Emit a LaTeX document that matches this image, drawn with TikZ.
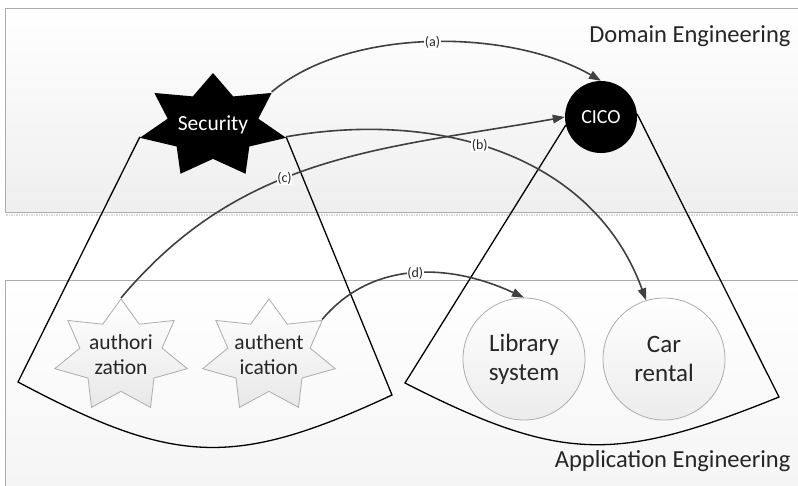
\documentclass[tikz,border=0pt]{standalone}
\usepackage{fontspec}
\setmainfont{Carlito}
\usetikzlibrary{arrows.meta, positioning, calc}

% seven pointed star: centre, x radius, y radius, style
\newcommand{\sevenstar}[4]{%
  \path[#4] ($(#1)+(90:#2pt and #3pt)$)
    \foreach \k in {0,...,6}{
      -- ($(#1)+({90+\k*360/7+180/7}:0.62*#2pt and 0.62*#3pt)$)
      -- ($(#1)+({90+(\k+1)*360/7}:#2pt and #3pt)$)
    } -- cycle;
}

\begin{document}
\begin{tikzpicture}[x=1pt, y=-1pt,
    every node/.append style = {font=\fontsize{21.5}{25}\selectfont, align=center, text=black!85},
    band/.style = {draw=gray!65, line width=0.7pt},
    cone/.style = {draw=black, line width=1.3pt},
    link/.style = {draw=black!75, line width=1.6pt, -{Triangle[length=12pt,width=8.5pt]}},
    tag/.style = {font=\fontsize{14}{14}\selectfont, fill=white, inner sep=0.6pt},
    feature/.style = {draw=gray!65, line width=0.8pt, top color=white, bottom color=gray!18},
    system/.style = {circle, draw=gray!65, line width=0.8pt, top color=white, bottom color=gray!15,
      minimum size=122pt, inner sep=0pt, font=\fontsize{25}{29}\selectfont}
  ]
  \useasboundingbox (0,0) rectangle (798,485);

  % the two layers
  \shade[top color=white, bottom color=gray!13] (5,8) rectangle (800,212);
  \draw[band] (800,8) -- (5,8) -- (5,212) -- (800,212);
  \draw[gray!30, dash pattern=on 1.5pt off 1pt, line width=1.5pt] (6,215) -- (800,215);
  \shade[top color=white, bottom color=gray!8] (5,280) rectangle (800,490);
  \draw[band] (800,280) -- (5,280) -- (5,490);

  \node[font=\fontsize{24.5}{24}\selectfont, anchor=base east] (dom) at (794,42) {Domain Engineering};
  \node[font=\fontsize{24.5}{24}\selectfont, anchor=base east] (app) at (794,467) {Application Engineering};

  % features
  \sevenstar{213,126}{75}{53}{fill=black}
  \node[text=white] (sec) at (213,125) {Security};
  \sevenstar{121,356}{68}{57}{feature}
  \node (auz) at (121,355) {authori\\zation};
  \sevenstar{269,356}{68}{57}{feature}
  \node (aun) at (269,355) {authent\\ication};

  % systems
  \node[circle, fill=black, minimum size=72pt, inner sep=0pt, text=white,
    font=\fontsize{20}{20}\selectfont] (cico) at (601,117) {CICO};
  \node[system] (lib) at (524,359) {Library\\system};
  \node[system] (car) at (664,359) {Car\\rental};

  % star points
  \coordinate (sec l) at ($(sec)+(192.86:75pt and 53pt)$);
  \coordinate (sec r) at ($(sec)+(-12.86:75pt and 53pt)$);
  \coordinate (sec ur) at ($(sec)+(38.57:75pt and 53pt)$);
  \coordinate (auz t) at ($(auz)+(90:68pt and 57pt)$);
  \coordinate (aun ur) at ($(aun)+(38.57:68pt and 57pt)$);

  % cones
  \coordinate (lc bl) at (18,382);
  \coordinate (lc br) at (392,395);
  \coordinate (rc bl) at (405,383);
  \coordinate (rc br) at (779,397);
  \draw[cone] (sec l) -- (lc bl) to[out=-28, in=-155, looseness=1.2] (lc br) -- (sec r);
  \draw[cone] (cico.193) -- (rc bl) to[out=-27, in=-158, looseness=1.2] (rc br) -- (cico.5);

  % links
  \draw[link] (sec ur) to[out=40, in=150, looseness=0.8] node[tag] {(a)} (cico.north);
  \draw[link] (sec r) to[out=10, in=110] node[tag, pos=0.44] {(b)} (car.107);
  \draw[link] (auz t) to[out=50, in=190] node[tag, pos=0.42] {(c)} (cico.west);
  \draw[link] (aun ur) to[out=50, in=155] node[tag] {(d)} (lib.north);
\end{tikzpicture}
\end{document}
